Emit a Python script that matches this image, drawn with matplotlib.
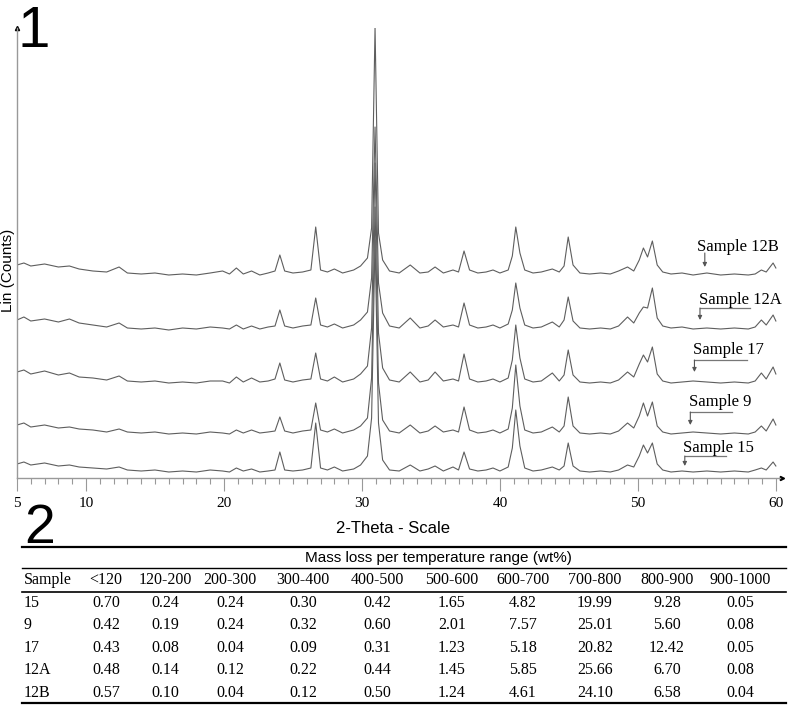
import matplotlib
matplotlib.use("Agg")
import matplotlib.pyplot as plt
from matplotlib.lines import Line2D
from matplotlib.ticker import MultipleLocator, FixedLocator

# ---- XRD traces (2-theta grid shared by all samples, intensity in arbitrary counts) ----
two_theta = [5.0, 5.5, 6.0, 7.0, 8.0, 8.8, 9.5, 10.5, 11.5, 12.4,
             13.0, 14.0, 15.0, 16.0, 17.0, 18.0, 19.0, 19.9, 20.4, 20.9,
             21.4, 22.0, 22.6, 23.2, 23.7, 24.05, 24.4, 25.0, 25.7, 26.3,
             26.65, 27.0, 27.5, 28.0, 28.6, 29.4, 29.9, 30.4, 30.7, 30.95,
             31.2, 31.5, 32.0, 32.7, 33.5, 34.2, 34.8, 35.3, 35.9, 36.6,
             37.0, 37.4, 37.8, 38.4, 39.0, 39.5, 40.0, 40.6, 40.9, 41.15,
             41.45, 41.8, 42.4, 43.0, 43.8, 44.3, 44.65, 44.95, 45.3, 45.8,
             46.5, 47.3, 48.0, 48.6, 49.25, 49.7, 50.1, 50.4, 50.7, 51.05,
             51.4, 51.8, 52.4, 53.2, 54.0, 55.0, 56.0, 57.0, 58.0, 58.5,
             58.95, 59.3, 59.8, 60.0]

sample_12B = [213, 215, 212, 214, 211, 212, 209, 207, 206, 211,
              205, 204, 205, 203, 204, 203, 205, 207, 204, 210,
              204, 207, 203, 205, 207, 223, 207, 205, 206, 208,
              251, 208, 206, 209, 205, 208, 212, 220, 250, 451,
              245, 218, 207, 205, 213, 205, 206, 211, 205, 208,
              206, 227, 208, 205, 206, 208, 205, 208, 222, 251,
              225, 208, 205, 206, 209, 206, 212, 241, 213, 205,
              204, 205, 204, 207, 211, 207, 218, 230, 221, 237,
              213, 206, 204, 205, 203, 205, 203, 204, 203, 204,
              208, 206, 215, 210]

sample_12A = [158, 161, 157, 159, 156, 159, 155, 153, 151, 155,
              150, 149, 150, 148, 150, 149, 151, 150, 149, 153,
              149, 152, 149, 151, 152, 168, 152, 150, 152, 153,
              180, 153, 151, 154, 150, 153, 158, 166, 200, 351,
              195, 165, 152, 150, 160, 150, 152, 158, 151, 153,
              151, 175, 153, 150, 151, 153, 150, 154, 168, 195,
              170, 153, 150, 151, 156, 151, 158, 181, 157, 150,
              149, 150, 149, 152, 161, 155, 165, 171, 170, 190,
              160, 152, 150, 151, 149, 150, 149, 150, 149, 151,
              158, 153, 163, 157]

sample_17 = [106, 108, 104, 107, 103, 105, 101, 100, 98, 102,
             97, 96, 97, 95, 96, 95, 97, 97, 95, 101,
             96, 100, 96, 97, 99, 115, 98, 96, 98, 99,
             125, 99, 97, 101, 96, 99, 104, 112, 150, 315,
             145, 110, 98, 96, 106, 96, 98, 106, 97, 99,
             97, 124, 99, 96, 97, 99, 96, 100, 118, 153,
             120, 99, 96, 97, 105, 97, 103, 128, 103, 96,
             95, 96, 95, 98, 106, 101, 114, 123, 116, 131,
             104, 97, 95, 96, 97, 96, 95, 96, 95, 97,
             105, 99, 111, 104]

sample_9 = [53, 55, 51, 53, 50, 51, 49, 48, 46, 49,
            46, 45, 46, 44, 45, 44, 46, 45, 44, 48,
            45, 48, 45, 46, 47, 61, 47, 45, 47, 48,
            75, 48, 46, 49, 45, 48, 52, 60, 100, 271,
            95, 58, 47, 45, 53, 45, 47, 52, 46, 48,
            46, 71, 48, 45, 46, 48, 45, 49, 70, 113,
            72, 48, 45, 46, 51, 46, 52, 81, 52, 45,
            44, 45, 44, 47, 55, 50, 62, 75, 62, 76,
            52, 46, 44, 45, 46, 45, 44, 45, 44, 46,
            52, 47, 59, 53]

sample_15 = [14, 16, 13, 15, 12, 13, 11, 10, 9, 11,
             8, 7, 8, 6, 7, 6, 8, 7, 6, 10,
             7, 9, 6, 7, 8, 26, 8, 7, 8, 10,
             55, 10, 8, 11, 7, 9, 13, 22, 60, 238,
             55, 18, 8, 7, 13, 7, 9, 12, 7, 11,
             8, 26, 9, 7, 8, 10, 7, 11, 30, 68,
             32, 10, 7, 8, 11, 8, 12, 35, 12, 7,
             6, 7, 6, 8, 13, 11, 22, 33, 25, 35,
             14, 8, 6, 7, 6, 7, 6, 7, 6, 8,
             10, 8, 16, 12]

sample_names = ["Sample 12B", "Sample 12A", "Sample 17", "Sample 9", "Sample 15"]
traces = [sample_12B, sample_12A, sample_17, sample_9, sample_15]
x_ticks = [5, 10, 20, 30, 40, 50, 60]

# ---- TGA table ----
table_title = "Mass loss per temperature range (wt%)"
table_cols = ["<120", "120-200", "200-300", "300-400", "400-500",
              "500-600", "600-700", "700-800", "800-900", "900-1000"]
table_samples = ["15", "9", "17", "12A", "12B"]
loss_15 = ["0.70", "0.24", "0.24", "0.30", "0.42", "1.65", "4.82", "19.99", "9.28", "0.05"]
loss_9 = ["0.42", "0.19", "0.24", "0.32", "0.60", "2.01", "7.57", "25.01", "5.60", "0.08"]
loss_17 = ["0.43", "0.08", "0.04", "0.09", "0.31", "1.23", "5.18", "20.82", "12.42", "0.05"]
loss_12A = ["0.48", "0.14", "0.12", "0.22", "0.44", "1.45", "5.85", "25.66", "6.70", "0.08"]
loss_12B = ["0.57", "0.10", "0.04", "0.12", "0.50", "1.24", "4.61", "24.10", "6.58", "0.04"]
table_rows = [loss_15, loss_9, loss_17, loss_12A, loss_12B]

W, H = 800, 709
SERIF = "Liberation Serif"
SANS = "Liberation Sans"


def fx(x):
    return x / W


def fy(y):
    return 1 - y / H


fig = plt.figure(figsize=(W / 100, H / 100), dpi=100)

# ---- panel 1: stacked diffractograms ----
ax = fig.add_axes([fx(17), fy(478), fx(763), 450 / H])
for tr in traces:
    ax.plot(two_theta, tr, color="#5e5e5e", lw=0.8)
ax.set_xlim(5, 60.3)
ax.set_ylim(0, 450)
for s in ("top", "right"):
    ax.spines[s].set_visible(False)
for s in ("left", "bottom"):
    ax.spines[s].set_color("#999999")
    ax.spines[s].set_linewidth(1.0)
ax.set_yticks([])
ax.xaxis.set_major_locator(FixedLocator(x_ticks))
ax.xaxis.set_minor_locator(MultipleLocator(1))
ax.tick_params(axis="x", which="major", length=9, width=0.8, color="#999999", pad=5)
ax.tick_params(axis="x", which="minor", length=4, width=0.8, color="#999999")
for lab in ax.get_xticklabels():
    lab.set_fontfamily(SERIF)
    lab.set_fontsize(11)
ax.set_xlabel("2-Theta - Scale", fontfamily=SANS, fontsize=12, labelpad=3)
ax.xaxis.set_label_coords(0.493, -0.095)
ax.plot([0], [1], marker="^", ms=3, color="black", transform=ax.transAxes, clip_on=False)
ax.plot([1.002], [0], marker=">", ms=3, color="black", transform=ax.transAxes, clip_on=False)
fig.text(fx(8), fy(270), "Lin (Counts)", rotation=90, ha="center", va="center",
         fontfamily=SANS, fontsize=11)

# sample labels with bracket arrows (text x, text y, arrow x, line y, tip y, line end x)
label_layout = [
    (54.3, 231, 54.85, None, 211, None),
    (54.4, 178, 54.5, 170, 158, 58.1),
    (54.0, 128, 54.1, 118, 106, 57.9),
    (53.7, 76, 53.8, 66, 53, 56.8),
    (53.3, 30, 53.4, 22, 12, 56.4),
]
for name, (tx, ty, axx, ly, tipy, lx) in zip(sample_names, label_layout):
    ax.text(tx, ty, name, fontfamily=SERIF, fontsize=12, ha="left", va="center", clip_on=False)
    start = ly if ly is not None else ty - 6
    if lx is not None:
        ax.plot([axx, lx], [ly, ly], color="#777777", lw=0.9)
    ax.annotate("", xy=(axx, tipy), xytext=(axx, start),
                arrowprops=dict(arrowstyle="-|>", color="#555555", lw=0.8,
                                mutation_scale=6, shrinkA=0, shrinkB=0))

fig.text(fx(17), fy(47), "1", fontfamily=SANS, fontsize=42, ha="left", va="baseline")

# ---- panel 2: table ----
fig.text(fx(24), fy(543), "2", fontfamily=SANS, fontsize=40, ha="left", va="baseline")


def hline(y, lw):
    fig.add_artist(Line2D([fx(22), fx(786)], [fy(y), fy(y)], color="black", lw=lw))


hline(547, 1.6)
hline(568, 1.0)
hline(592, 1.2)
hline(703, 1.6)

col_x = [106, 165, 230, 303, 377, 452, 523, 595, 667, 740]
fig.text(fx(438), fy(558), table_title, fontfamily=SANS, fontsize=11, ha="center", va="center")
fig.text(fx(24), fy(580), "Sample", fontfamily=SERIF, fontsize=11.5, ha="left", va="center")
for c, x in zip(table_cols, col_x):
    fig.text(fx(x), fy(580), c, fontfamily=SERIF, fontsize=11.5, ha="center", va="center")
row_y = [603, 625, 648, 670, 693]
for name, vals, y in zip(table_samples, table_rows, row_y):
    fig.text(fx(24), fy(y), name, fontfamily=SERIF, fontsize=11.5, ha="left", va="center")
    for v, x in zip(vals, col_x):
        fig.text(fx(x), fy(y), v, fontfamily=SERIF, fontsize=11.5, ha="center", va="center")

fig.savefig("out.png", dpi=100)
plt.close(fig)
